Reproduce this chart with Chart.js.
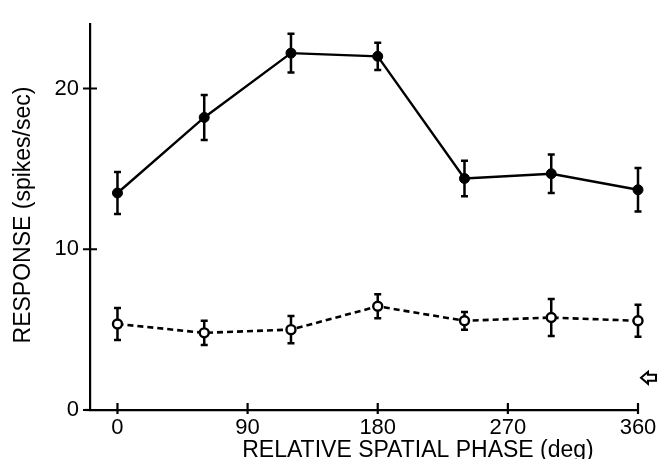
<!DOCTYPE html>
<html>
<head>
<meta charset="utf-8">
<script src="https://cdn.jsdelivr.net/npm/chart.js@4.4.0/dist/chart.umd.min.js"></script>
<style>
    html, body { margin: 0; padding: 0; background: #fff; }
    #wrap { width: 662px; height: 459px; }
</style>
</head>
<body>
<div id="wrap"><canvas id="chartCanvas" width="662" height="459"></canvas></div>
<script>
// 相位 (deg)
const phases = [0, 60, 120, 180, 240, 300, 360]
// 实心点：平均响应及误差
const peakMean = [13.5, 18.2, 22.2, 22.0, 14.4, 14.7, 13.7]
const peakErr = [1.3, 1.4, 1.2, 0.85, 1.1, 1.2, 1.35]
// 空心点：平均响应及误差
const baseMean = [5.35, 4.8, 5.0, 6.45, 5.55, 5.75, 5.55]
const baseErr = [1.0, 0.75, 0.85, 0.75, 0.55, 1.15, 1.0]
// 自发放电水平 (箭头)
const spontaneousRate = 2.0

const xTicks = [0, 90, 180, 270, 360]
const yTicks = [0, 10, 20]

const FONT = '"Liberation Sans", Arial, Helvetica, sans-serif'

// 误差线、刻度、坐标轴标题和箭头
const extrasPlugin = {
    id: 'extras',
    beforeDatasetsDraw(chart) {
        const ctx = chart.ctx
        const x = chart.scales.x
        const y = chart.scales.y
        const groups = [[peakMean, peakErr], [baseMean, baseErr]]
        ctx.save()
        ctx.strokeStyle = '#000'
        ctx.lineWidth = 2.5
        groups.forEach(([mean, err]) => {
            phases.forEach((p, i) => {
                const px = x.getPixelForValue(p)
                const top = y.getPixelForValue(mean[i] + err[i])
                const bot = y.getPixelForValue(mean[i] - err[i])
                ctx.beginPath()
                ctx.moveTo(px, top)
                ctx.lineTo(px, bot)
                ctx.moveTo(px - 3.5, top)
                ctx.lineTo(px + 3.5, top)
                ctx.moveTo(px - 3.5, bot)
                ctx.lineTo(px + 3.5, bot)
                ctx.stroke()
            })
        })
        ctx.restore()
    },
    afterDraw(chart) {
        const ctx = chart.ctx
        const x = chart.scales.x
        const y = chart.scales.y
        const area = chart.chartArea
        ctx.save()
        ctx.strokeStyle = '#000'
        ctx.lineWidth = 2.2

        // x 轴向左略伸出
        ctx.beginPath()
        ctx.moveTo(area.left - 5, area.bottom)
        ctx.lineTo(area.left, area.bottom)
        ctx.stroke()

        // 刻度线（穿过坐标轴）
        ctx.beginPath()
        xTicks.forEach(v => {
            const px = x.getPixelForValue(v)
            ctx.moveTo(px, area.bottom - 7)
            ctx.lineTo(px, area.bottom + 4)
        })
        yTicks.forEach(v => {
            const py = y.getPixelForValue(v)
            ctx.moveTo(area.left - 7, py)
            ctx.lineTo(area.left + 7, py)
        })
        ctx.stroke()

        // 坐标轴标题
        ctx.fillStyle = '#000'
        ctx.font = '23px ' + FONT
        ctx.textAlign = 'center'
        ctx.textBaseline = 'alphabetic'
        ctx.fillText('RELATIVE SPATIAL PHASE (deg)', 418, 457)

        ctx.save()
        ctx.translate(30, 215)
        ctx.rotate(-Math.PI / 2)
        ctx.fillText('RESPONSE (spikes/sec)', 0, 0)
        ctx.restore()

        // 空心箭头
        const ay = y.getPixelForValue(spontaneousRate)
        const ax = area.right + 3
        ctx.lineWidth = 2
        ctx.beginPath()
        ctx.moveTo(ax, ay)
        ctx.lineTo(ax + 7, ay - 6)
        ctx.lineTo(ax + 7, ay - 3)
        ctx.lineTo(ax + 15, ay - 3)
        ctx.lineTo(ax + 15, ay + 3)
        ctx.lineTo(ax + 7, ay + 3)
        ctx.lineTo(ax + 7, ay + 6)
        ctx.closePath()
        ctx.stroke()

        ctx.restore()
    }
}

const ctx = document.getElementById('chartCanvas').getContext('2d')
new Chart(ctx, {
    type: 'line',
    data: {
        datasets: [
            {
                data: phases.map((p, i) => ({ x: p, y: peakMean[i] })),
                borderColor: '#000',
                borderWidth: 2.4,
                pointRadius: 5,
                pointBackgroundColor: '#000',
                pointBorderColor: '#000',
                pointBorderWidth: 1,
                clip: false
            },
            {
                data: phases.map((p, i) => ({ x: p, y: baseMean[i] })),
                borderColor: '#000',
                borderWidth: 2.6,
                borderDash: [6, 4],
                pointRadius: 4.5,
                pointBackgroundColor: '#fff',
                pointBorderColor: '#000',
                pointBorderWidth: 2.4,
                clip: false
            }
        ]
    },
    options: {
        responsive: false,
        animation: false,
        devicePixelRatio: 1,
        layout: {
            padding: { top: 13, right: 24, left: 0, bottom: 0 }
        },
        plugins: {
            legend: { display: false },
            tooltip: { enabled: false }
        },
        scales: {
            x: {
                type: 'linear',
                min: -19,
                max: 360,
                afterBuildTicks: s => { s.ticks = xTicks.map(v => ({ value: v })) },
                afterFit: s => { s.height = 49 },
                grid: { display: false, drawTicks: false },
                border: { display: true, color: '#000', width: 2.2 },
                ticks: {
                    color: '#000',
                    padding: 5,
                    maxRotation: 0,
                    autoSkip: false,
                    font: { family: FONT, size: 22 }
                }
            },
            y: {
                min: 0,
                max: 24,
                afterBuildTicks: s => { s.ticks = yTicks.map(v => ({ value: v })) },
                afterFit: s => { s.width = 90 },
                grid: { display: false, drawTicks: false },
                border: { display: true, color: '#000', width: 2.2 },
                ticks: {
                    color: '#000',
                    padding: 11,
                    font: { family: FONT, size: 22 }
                }
            }
        }
    },
    plugins: [extrasPlugin]
})
</script>
</body>
</html>
